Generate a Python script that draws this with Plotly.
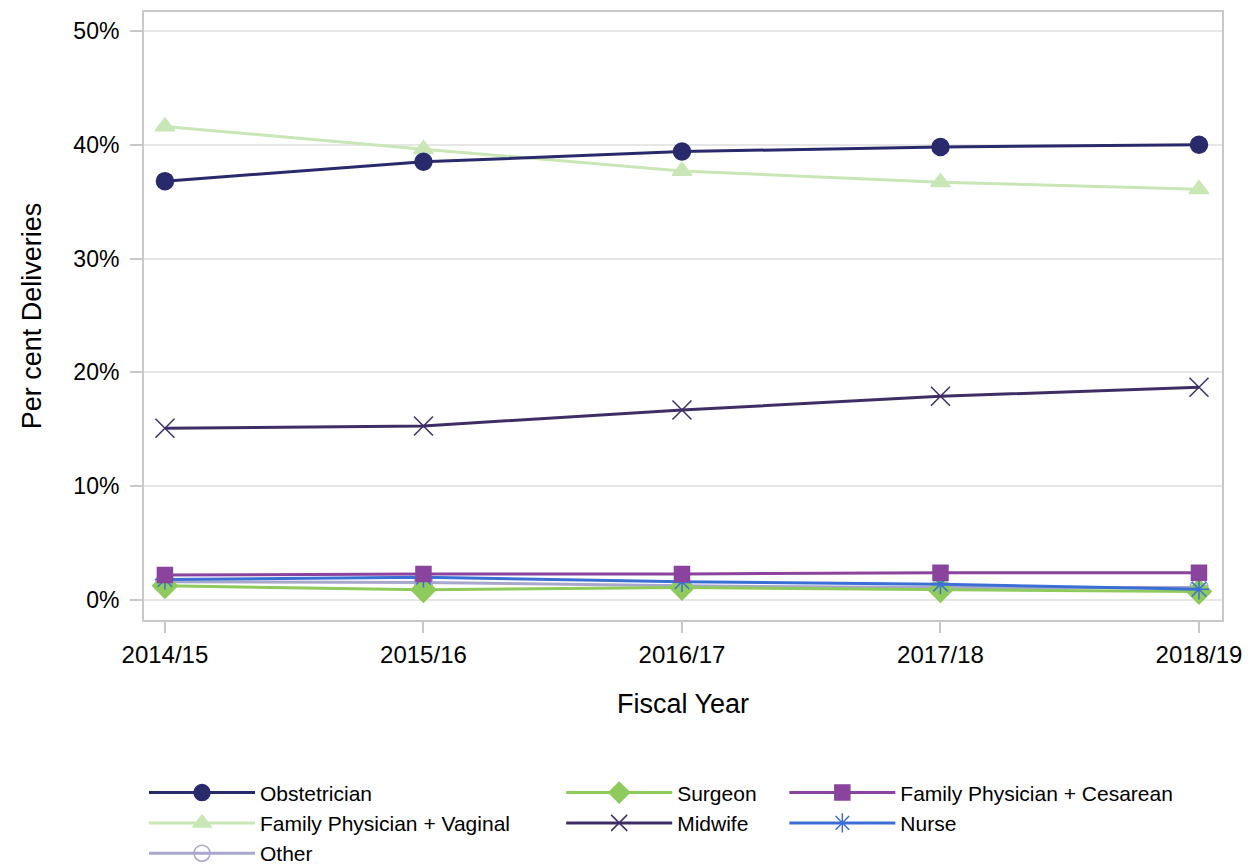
import plotly.graph_objects as go

years = ["2014/15", "2015/16", "2016/17", "2017/18", "2018/19"]
obstetrician = [36.8, 38.5, 39.4, 39.8, 40.0]
fp_vaginal = [41.6, 39.6, 37.7, 36.7, 36.1]
midwife = [15.1, 15.3, 16.7, 17.9, 18.7]
fp_cesarean = [2.2, 2.3, 2.3, 2.4, 2.4]
nurse = [1.8, 2.0, 1.6, 1.4, 0.95]
other = [1.6, 1.55, 1.25, 1.1, 1.1]
surgeon = [1.25, 0.9, 1.1, 0.9, 0.75]
y_ticks = [0, 10, 20, 30, 40, 50]
y_tick_labels = ["0%", "10%", "20%", "30%", "40%", "50%"]

xs = list(range(len(years)))

series = [
    # name, values, color, symbol, size, legend
    ("Other", other, "#a9a7cc", "circle-open", 18, "legend"),
    ("Surgeon", surgeon, "#8fca5c", "diamond", 19, "legend2"),
    ("Nurse", nurse, "#3c6fd6", "asterisk-open", 17, "legend3"),
    ("Family Physician + Cesarean", fp_cesarean, "#8b449d", "square", 15, "legend3"),
    ("Midwife", midwife, "#3f2e66", "x-thin-open", 19, "legend2"),
    ("Family Physician + Vaginal", fp_vaginal, "#c9e6b6", "triangle-up", 17, "legend"),
    ("Obstetrician", obstetrician, "#282a6b", "circle", 17, "legend"),
]
legend_rank = {
    "Obstetrician": 1, "Family Physician + Vaginal": 2, "Other": 3,
    "Surgeon": 1, "Midwife": 2,
    "Family Physician + Cesarean": 1, "Nurse": 2,
}

fig = go.Figure()
for name, vals, color, sym, size, leg in series:
    fig.add_trace(go.Scatter(
        x=xs, y=vals, name=name, mode="lines+markers",
        line=dict(color=color, width=3),
        marker=dict(symbol=sym, size=size, color=color,
                    line=dict(color=color, width=1.5)),
        legend=leg, legendrank=legend_rank[name],
    ))

font_family = "Liberation Sans, Arial, sans-serif"
legend_common = dict(
    orientation="v", yanchor="top", xanchor="left",
    font=dict(size=21, family=font_family, color="#000"),
    bgcolor="rgba(0,0,0,0)", tracegroupgap=0, itemwidth=106,
    traceorder="normal", xref="paper", yref="container",
)
ly = 0.108

fig.update_layout(
    width=1248, height=857,
    margin=dict(l=136, r=34, t=2, b=245),
    paper_bgcolor="white", plot_bgcolor="white",
    font=dict(family=font_family, size=20, color="#000"),
    showlegend=True,
    legend=dict(x=0.0, y=ly, **legend_common),
    legend2=dict(x=0.387, y=ly, **legend_common),
    legend3=dict(x=0.594, y=ly, **legend_common),
    xaxis=dict(
        range=[-0.081, 4.089], tickmode="array", tickvals=xs, ticktext=years,
        showgrid=False, zeroline=False, ticks="outside", ticklen=11,
        tickcolor="#c8c8c8", tickwidth=2, ticklabelstandoff=1,
        showline=True, linecolor="#c8c8c8", linewidth=2, mirror=True,
        tickfont=dict(size=24), title=dict(text="Fiscal Year", font=dict(size=27), standoff=27),
    ),
    yaxis=dict(
        range=[-1.75, 51.66], tickmode="array", tickvals=y_ticks, ticktext=y_tick_labels,
        showgrid=True, gridcolor="#e6e6e6", gridwidth=2, zeroline=False,
        ticks="outside", ticklen=12, tickcolor="#c8c8c8", tickwidth=2,
        ticklabelstandoff=6,
        showline=True, linecolor="#c8c8c8", linewidth=2, mirror=True,
        tickfont=dict(size=23), title=dict(text="Per cent Deliveries", font=dict(size=27), standoff=24),
    ),
)

fig.write_html("out.html")
